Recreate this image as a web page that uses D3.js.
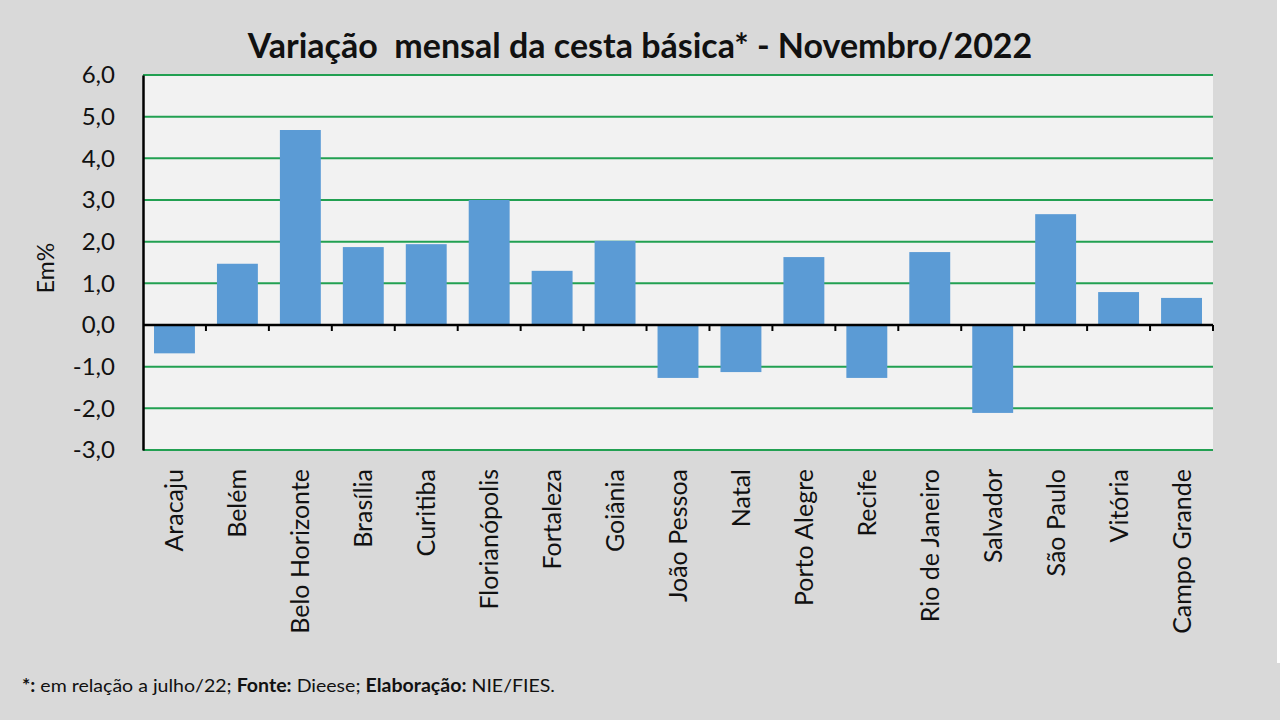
<!DOCTYPE html>
<html>
<head>
<meta charset="utf-8">
<script src="https://cdn.jsdelivr.net/npm/d3@7"></script>
<style>
  body { margin: 0; background: #d9d9d9; }
  svg { display: block; font-family: Lato, "Open Sans", sans-serif; }
</style>
</head>
<body>
<div id="chart"></div>
<script>
// data
const cities = ["Aracaju", "Belém", "Belo Horizonte", "Brasília", "Curitiba", "Florianópolis",
  "Fortaleza", "Goiânia", "João Pessoa", "Natal", "Porto Alegre", "Recife",
  "Rio de Janeiro", "Salvador", "São Paulo", "Vitória", "Campo Grande"];
const variation = [-0.68, 1.47, 4.68, 1.87, 1.94, 3.0, 1.30, 2.02, -1.27, -1.13, 1.63, -1.27,
  1.75, -2.11, 2.66, 0.79, 0.65];
const yTicks = [-3, -2, -1, 0, 1, 2, 3, 4, 5, 6];

const width = 1280, height = 720;
const margin = { top: 75, right: 67, bottom: 270, left: 143 };
const innerWidth = width - margin.left - margin.right;
const innerHeight = height - margin.top - margin.bottom;

const svg = d3.select('#chart')
  .append('svg')
  .attr('width', width)
  .attr('height', height);

// outer background + thin white edge on the right
svg.append('rect').attr('width', width).attr('height', height).attr('fill', '#d9d9d9');
svg.append('rect').attr('x', 1277).attr('y', 0).attr('width', 3).attr('height', 663).attr('fill', '#ffffff');

const plot = svg.append('g')
  .attr('transform', `translate(${margin.left},${margin.top})`);

plot.append('rect')
  .attr('width', innerWidth)
  .attr('height', innerHeight)
  .attr('fill', '#f2f2f2');

// scales
const x = d3.scaleBand().domain(cities).range([0, innerWidth]).paddingInner(0.35).paddingOuter(0.175);
const y = d3.scaleLinear().domain([-3, 6]).range([innerHeight, 0]);

// gridlines
plot.append('g')
  .selectAll('line')
  .data(yTicks.filter(d => d !== 0))
  .join('line')
  .attr('x1', 0)
  .attr('x2', innerWidth)
  .attr('y1', d => y(d))
  .attr('y2', d => y(d))
  .attr('stroke', '#22a052')
  .attr('stroke-width', 2);

// bars
plot.append('g')
  .selectAll('rect')
  .data(variation)
  .join('rect')
  .attr('x', (d, i) => x(cities[i]))
  .attr('width', x.bandwidth())
  .attr('y', d => y(Math.max(0, d)))
  .attr('height', d => Math.abs(y(d) - y(0)))
  .attr('fill', '#5b9bd5');

// y axis
const yAxis = plot.append('g')
  .call(d3.axisLeft(y).tickValues(yTicks).tickSize(0).tickPadding(28)
    .tickFormat(d => d3.format('.1f')(d).replace('.', ',').replace('−', '-')));
yAxis.select('.domain').attr('stroke', '#000').attr('stroke-width', 2.5);
yAxis.selectAll('text')
  .attr('font-size', 24)
  .attr('fill', '#111')
  .attr('font-family', 'Lato, sans-serif');

// zero axis with ticks on category boundaries
const boundaries = cities.map((c, i) => i * x.step()).concat([innerWidth]);
const xAxis = plot.append('g').attr('transform', `translate(0,${y(0)})`);
xAxis.append('line')
  .attr('x1', 0).attr('x2', innerWidth)
  .attr('stroke', '#000').attr('stroke-width', 2.5);
xAxis.selectAll('line.tick')
  .data(boundaries.slice(1))
  .join('line')
  .attr('class', 'tick')
  .attr('x1', d => d).attr('x2', d => d)
  .attr('y1', 0).attr('y2', 6)
  .attr('stroke', '#000').attr('stroke-width', 2);

// category labels
plot.append('g')
  .selectAll('text')
  .data(cities)
  .join('text')
  .attr('transform', d => `translate(${x(d) + x.bandwidth() / 2 + 9},${innerHeight + 19}) rotate(-90)`)
  .attr('text-anchor', 'end')
  .attr('font-size', 25)
  .attr('fill', '#111')
  .text(d => d);

// y label
svg.append('text')
  .attr('transform', 'translate(54,268) rotate(-90)')
  .attr('text-anchor', 'middle')
  .attr('font-size', 23)
  .attr('fill', '#111')
  .text('Em%');

// title
svg.append('text')
  .attr('x', 640)
  .attr('y', 58)
  .attr('text-anchor', 'middle')
  .attr('font-size', 34)
  .attr('font-weight', 'bold')
  .attr('fill', '#111')
  .attr('xml:space', 'preserve')
  .style('white-space', 'pre')
  .text('Variação  mensal da cesta básica* - Novembro/2022');

// footer
const foot = svg.append('text')
  .attr('x', 22)
  .attr('y', 692)
  .attr('font-size', 18)
  .attr('textLength', 533)
  .attr('lengthAdjust', 'spacingAndGlyphs')
  .attr('fill', '#111');
foot.append('tspan').attr('font-weight', 'bold').text('*:');
foot.append('tspan').text(' em relação a julho/22; ');
foot.append('tspan').attr('font-weight', 'bold').text('Fonte:');
foot.append('tspan').text(' Dieese; ');
foot.append('tspan').attr('font-weight', 'bold').text('Elaboração:');
foot.append('tspan').text(' NIE/FIES.');
</script>
</body>
</html>
